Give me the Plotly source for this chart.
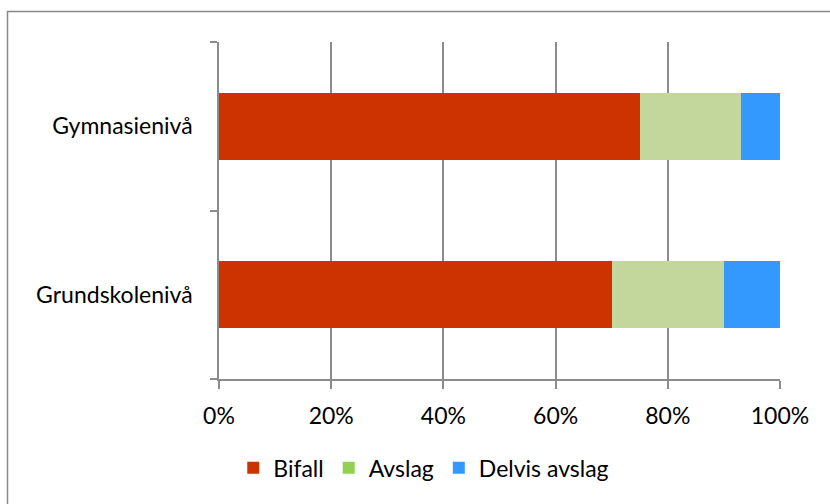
import plotly.graph_objects as go

categories = ["Grundskolenivå", "Gymnasienivå"]
series_names = ["Bifall", "Avslag", "Delvis avslag"]
bifall = [70, 75]
avslag = [20, 18]
delvis = [10, 7]
x_ticks = [0, 20, 40, 60, 80, 100]
x_tick_labels = ["0%", "20%", "40%", "60%", "80%", "100%"]

bar_colors = ["#CC3300", "#C3D69B", "#3399FF"]
legend_colors = ["#CC3300", "#92D050", "#3399FF"]

W, H = 830, 504
ML, MR, MT, MB = 219, 50, 42, 125
PW, PH = W - ML - MR, H - MT - MB

fig = go.Figure()
for name, vals, col in zip(series_names, [bifall, avslag, delvis], bar_colors):
    fig.add_trace(go.Bar(
        y=categories, x=vals, name=name, orientation="h",
        marker=dict(color=col, line=dict(width=0)),
        showlegend=False, hoverinfo="x+name",
    ))
for name, col in zip(series_names, legend_colors):
    fig.add_trace(go.Bar(
        y=categories, x=[0, 0], name=name, orientation="h",
        marker=dict(color=col, line=dict(width=0)),
        showlegend=True, hoverinfo="skip",
    ))

grid_col = "#8C8C8C"
fig.update_layout(
    width=W, height=H,
    margin=dict(l=ML, r=MR, t=MT, b=MB, pad=0),
    barmode="stack",
    bargap=0.6,
    plot_bgcolor="white", paper_bgcolor="white",
    font=dict(family="Lato, Calibri, sans-serif", size=23, color="#000000"),
    xaxis=dict(
        range=[0, 100], tickvals=x_ticks, ticktext=x_tick_labels,
        showgrid=True, gridcolor=grid_col, gridwidth=1.5,
        showline=True, linecolor=grid_col, linewidth=1.5,
        ticks="outside", ticklen=8, tickcolor=grid_col, tickwidth=1.5,
        ticklabelstandoff=8,
        zeroline=False, fixedrange=True,
    ),
    yaxis=dict(
        categoryorder="array", categoryarray=categories,
        showgrid=False, showline=True, linecolor=grid_col, linewidth=1.5,
        ticks="outside", tickson="boundaries", ticklen=7,
        tickcolor=grid_col, tickwidth=1.5, ticklabelstandoff=20,
        fixedrange=True,
    ),
    legend=dict(
        orientation="h", x=0.365, xanchor="center", y=-0.2, yanchor="top",
        font=dict(size=23), traceorder="normal",
    ),
    shapes=[dict(
        type="rect", xref="paper", yref="paper",
        x0=(7.5 - ML) / PW, x1=(W + 10 - ML) / PW,
        y0=(MT + PH - (H + 10)) / PH, y1=(MT + PH - 11.5) / PH,
        line=dict(color="#888888", width=1.5), fillcolor="rgba(0,0,0,0)",
        layer="below",
    )],
)

fig.write_html("out.html")
